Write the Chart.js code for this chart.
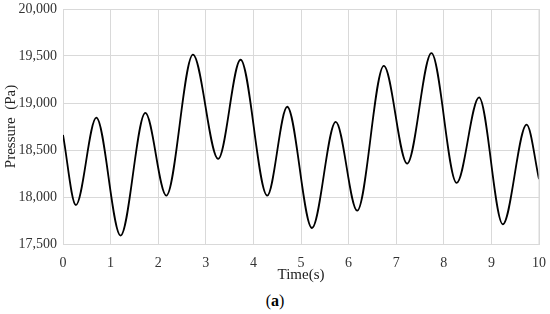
<!DOCTYPE html>
<html>
<head>
<meta charset="utf-8">
<script src="https://cdn.jsdelivr.net/npm/chart.js@4/dist/chart.umd.min.js"></script>
<style>
    html, body { margin: 0; padding: 0; background: #fff; }
    #wrap { position: absolute; left: 0; top: 0; width: 550px; height: 284px; }
    #caption {
        position: absolute; left: 0; top: 292px; width: 550px;
        text-align: center; font-family: "Liberation Serif", serif; font-size: 16px; color: #000;
    }
</style>
</head>
<body>
<div id="wrap"><canvas id="pressureChart"></canvas></div>
<div id="caption">(<b>a</b>)</div>
<script>
// Temps (s) des extremums
const times = [0, 0.27, 0.70, 1.21, 1.73, 2.17, 2.73, 3.26, 3.73, 4.29, 4.71,
               5.23, 5.73, 6.18, 6.74, 7.23, 7.74, 8.27, 8.74, 9.24, 9.74, 10];
// Pression (Pa)
const pressures = [18660, 17915, 18845, 17590, 18895, 18015, 19515, 18405, 19460, 18015, 18960,
                   17670, 18800, 17855, 19395, 18355, 19530, 18150, 19060, 17710, 18770, 18190];
const xTicks = [0, 1, 2, 3, 4, 5, 6, 7, 8, 9, 10];
const yTicks = [17500, 18000, 18500, 19000, 19500, 20000];

document.addEventListener("DOMContentLoaded", () => {
    const points = times.map((t, i) => ({ x: t, y: pressures[i] }));
    const serif = "'Liberation Serif', 'Times New Roman', serif";

    const ctx = document.getElementById("pressureChart").getContext("2d");
    new Chart(ctx, {
        type: "line",
        data: {
            datasets: [{
                data: points,
                borderColor: "#000",
                borderWidth: 1.8,
                pointRadius: 0,
                fill: false,
                cubicInterpolationMode: "monotone"
            }]
        },
        options: {
            responsive: true,
            maintainAspectRatio: false,
            animation: false,
            layout: { padding: { top: 9, right: 11, left: 2, bottom: 0 } },
            plugins: { legend: { display: false }, tooltip: { enabled: false } },
            scales: {
                x: {
                    type: "linear",
                    min: xTicks[0],
                    max: xTicks[xTicks.length - 1],
                    afterBuildTicks: (s) => { s.ticks = xTicks.map(v => ({ value: v })); },
                    afterFit: (s) => { s.height = 40; s.paddingLeft = 0; s.paddingRight = 0; },
                    grid: { color: "#d9d9d9", drawTicks: false },
                    border: { color: "#d9d9d9" },
                    ticks: { padding: 11, color: "#333", font: { family: serif, size: 14 } },
                    title: {
                        display: true, text: "Time(s)", color: "#222",
                        padding: { top: 0, bottom: 0 },
                        font: { family: serif, size: 15 }
                    }
                },
                y: {
                    min: yTicks[0],
                    max: yTicks[yTicks.length - 1],
                    afterBuildTicks: (s) => { s.ticks = yTicks.map(v => ({ value: v })); },
                    afterFit: (s) => { s.width = 61; s.paddingTop = 0; s.paddingBottom = 0; },
                    grid: { color: "#d9d9d9", drawTicks: false },
                    border: { color: "#d9d9d9" },
                    ticks: {
                        padding: 6, color: "#333", font: { family: serif, size: 14 },
                        callback: (v) => v.toLocaleString("en-US")
                    },
                    title: {
                        display: true, text: "Pressure  (Pa)", color: "#222",
                        padding: { top: 0, bottom: 0 },
                        font: { family: serif, size: 15 }
                    }
                }
            }
        },
        plugins: [{
            id: "rightBorder",
            afterDraw(chart) {
                const a = chart.chartArea, c = chart.ctx;
                c.save();
                c.strokeStyle = "#d9d9d9";
                c.lineWidth = 1;
                c.beginPath();
                c.moveTo(a.right, a.top);
                c.lineTo(a.right, a.bottom);
                c.stroke();
                c.restore();
            }
        }]
    });
});
</script>
</body>
</html>
